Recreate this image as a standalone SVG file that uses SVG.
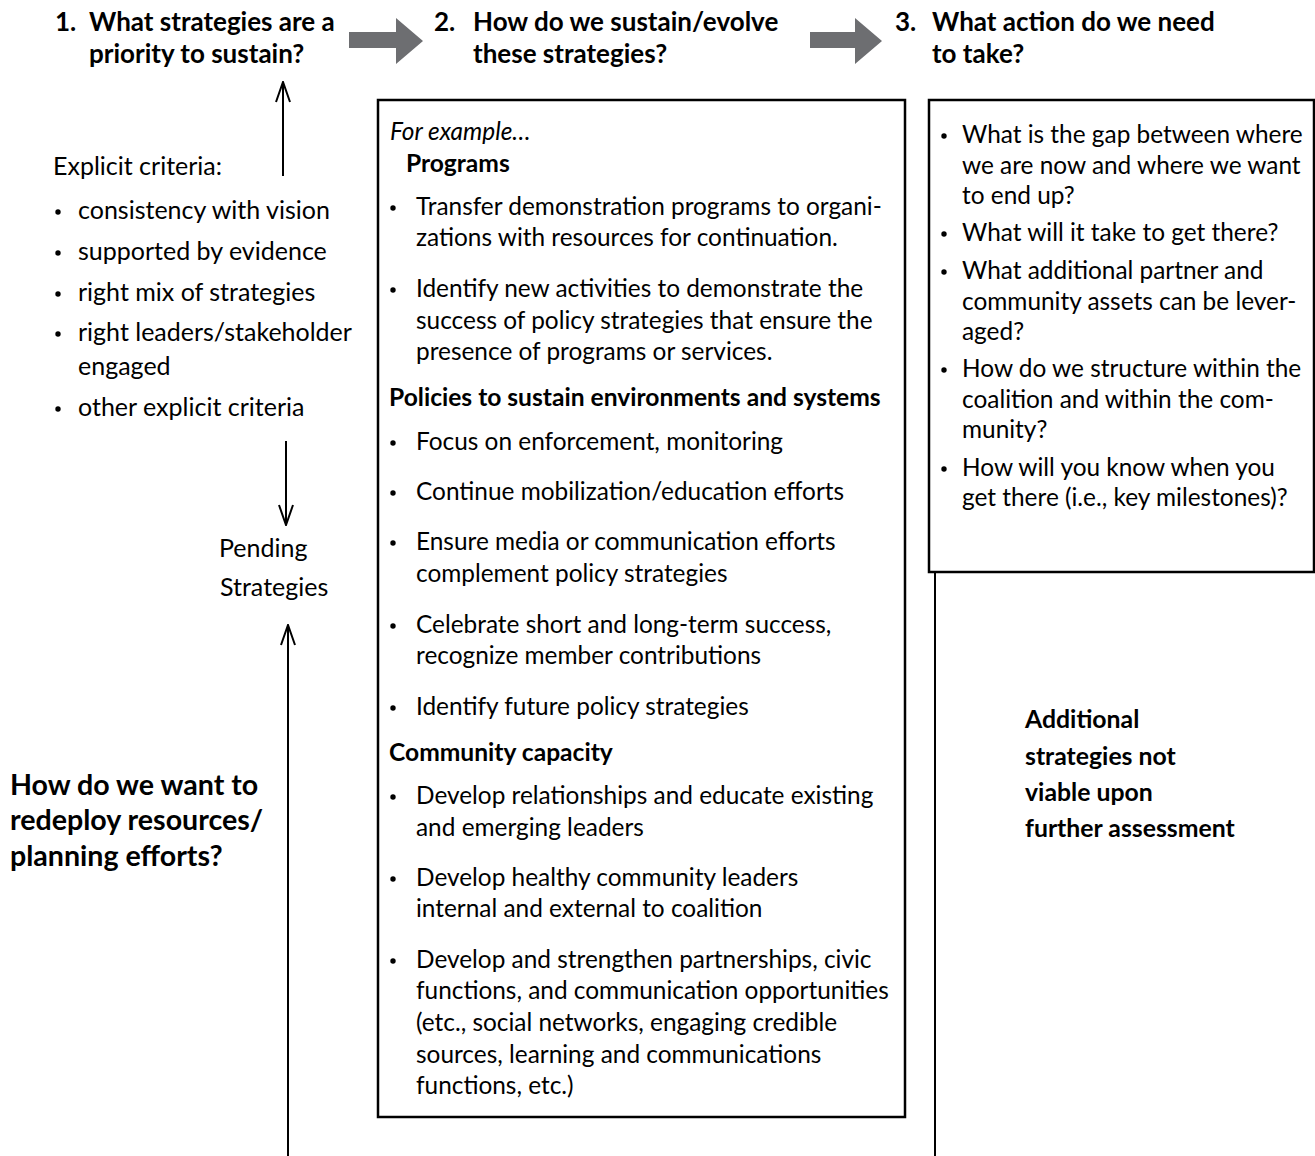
<svg xmlns="http://www.w3.org/2000/svg" width="1315" height="1156" viewBox="0 0 1315 1156">
<style>
.hd{font-family:"Lato","Liberation Sans",sans-serif;font-weight:bold;font-size:26px;fill:#000}
.lt{font-family:"Lato","Liberation Sans",sans-serif;font-size:25px;fill:#000}
.bx{font-family:"Lato","Liberation Sans",sans-serif;font-size:24.4px;fill:#000}
.bb{font-family:"Lato","Liberation Sans",sans-serif;font-size:24.6px;font-weight:bold;fill:#000}
.lb{font-family:"Lato","Liberation Sans",sans-serif;font-size:28.6px;font-weight:bold;fill:#000}
.rb{font-family:"Lato","Liberation Sans",sans-serif;font-size:24.8px;font-weight:bold;fill:#000}
.dot{fill:#000}
.box{fill:#fff;stroke:#000;stroke-width:2.5}
.ln{stroke:#000;stroke-width:2;fill:none}
.garrow{fill:#6d6e71}
</style>
<defs>
<marker id="open" viewBox="0 0 22 16" refX="21" refY="8" markerWidth="22" markerHeight="16" markerUnits="userSpaceOnUse" orient="auto">
<path d="M1,1 L21,8 L1,15" fill="none" stroke="#000" stroke-width="2"/>
</marker>
<circle id="b" r="2.7"/>
</defs>

<g id="header1">
<text class="hd" x="55" y="31">1.</text>
<text class="hd" x="89" y="31">What strategies are a</text>
<text class="hd" x="89" y="63">priority to sustain?</text>
</g>
<g id="header2">
<text class="hd" x="434" y="31">2.</text>
<text class="hd" x="473" y="31">How do we sustain/evolve</text>
<text class="hd" x="473" y="63">these strategies?</text>
</g>
<g id="header3">
<text class="hd" x="895" y="31">3.</text>
<text class="hd" x="932" y="31">What action do we need</text>
<text class="hd" x="932" y="63">to take?</text>
</g>

<g id="connectors">
<polygon class="garrow" points="349,32 396,32 396,18 423,41 396,64 396,48 349,48"/>
<polygon class="garrow" points="810,32 855,32 855,18 882,41 855,64 855,48 810,48"/>
<line class="ln" x1="283" y1="176" x2="283" y2="82" marker-end="url(#open)"/>
<line class="ln" x1="286" y1="441" x2="286" y2="525" marker-end="url(#open)"/>
<line class="ln" x1="288" y1="1156" x2="288" y2="625" marker-end="url(#open)"/>
<line class="ln" x1="935" y1="572" x2="935" y2="1156"/>
</g>

<g id="criteria">
<text class="lt" x="53" y="175">Explicit criteria:</text>
<g class="dot">
<use href="#b" x="58" y="212"/><use href="#b" x="58" y="253"/><use href="#b" x="58" y="294"/><use href="#b" x="58" y="334"/><use href="#b" x="58" y="409"/>
</g>
<g class="lt">
<text x="78" y="219">consistency with vision</text>
<text x="78" y="260">supported by evidence</text>
<text x="78" y="301">right mix of strategies</text>
<text x="78" y="341">right leaders/stakeholder</text>
<text x="78" y="375">engaged</text>
<text x="78" y="416">other explicit criteria</text>
</g>
</g>

<g id="pending">
<text class="lt" x="219" y="557">Pending</text>
<text class="lt" x="220" y="596">Strategies</text>
</g>

<g id="redeploy">
<text class="lb" x="10" y="795">How do we want to</text>
<text class="lb" x="10" y="830">redeploy resources/</text>
<text class="lb" x="10" y="866">planning efforts?</text>
</g>

<g id="box2">
<rect class="box" x="378" y="100" width="527" height="1017"/>
<text class="bx" x="390" y="140" font-style="italic">For example…</text>
<text class="bb" x="406" y="172">Programs</text>
<g class="dot">
<use href="#b" x="393" y="208"/><use href="#b" x="393" y="290"/><use href="#b" x="393" y="443"/><use href="#b" x="393" y="493"/><use href="#b" x="393" y="543"/><use href="#b" x="393" y="626"/><use href="#b" x="393" y="708"/><use href="#b" x="393" y="797"/><use href="#b" x="393" y="879"/><use href="#b" x="393" y="961"/>
</g>
<g class="bx">
<text x="416" y="215">Transfer demonstration programs to organi-</text>
<text x="416" y="246">zations with resources for continuation.</text>
<text x="416" y="297">Identify new activities to demonstrate the</text>
<text x="416" y="329">success of policy strategies that ensure the</text>
<text x="416" y="360">presence of programs or services.</text>
</g>
<text class="bb" x="389" y="406">Policies to sustain environments and systems</text>
<g class="bx">
<text x="416" y="450">Focus on enforcement, monitoring</text>
<text x="416" y="500">Continue mobilization/education efforts</text>
<text x="416" y="550">Ensure media or communication efforts</text>
<text x="416" y="582">complement policy strategies</text>
<text x="416" y="633">Celebrate short and long-term success,</text>
<text x="416" y="664">recognize member contributions</text>
<text x="416" y="715">Identify future policy strategies</text>
</g>
<text class="bb" x="389" y="761">Community capacity</text>
<g class="bx">
<text x="416" y="804">Develop relationships and educate existing</text>
<text x="416" y="836">and emerging leaders</text>
<text x="416" y="886">Develop healthy community leaders</text>
<text x="416" y="917">internal and external to coalition</text>
<text x="416" y="968">Develop and strengthen partnerships, civic</text>
<text x="416" y="999">functions, and communication opportunities</text>
<text x="416" y="1031">(etc., social networks, engaging credible</text>
<text x="416" y="1063">sources, learning and communications</text>
<text x="416" y="1094">functions, etc.)</text>
</g>
</g>

<g id="box3">
<rect class="box" x="929" y="100" width="385" height="472"/>
<g class="dot">
<use href="#b" x="944" y="136"/><use href="#b" x="944" y="234"/><use href="#b" x="944" y="272"/><use href="#b" x="944" y="370"/><use href="#b" x="944" y="469"/>
</g>
<g class="bx">
<text x="962" y="143">What is the gap between where</text>
<text x="962" y="174">we are now and where we want</text>
<text x="962" y="204">to end up?</text>
<text x="962" y="241">What will it take to get there?</text>
<text x="962" y="279">What additional partner and</text>
<text x="962" y="310">community assets can be lever-</text>
<text x="962" y="340">aged?</text>
<text x="962" y="377">How do we structure within the</text>
<text x="962" y="408">coalition and within the com-</text>
<text x="962" y="438">munity?</text>
<text x="962" y="476">How will you know when you</text>
<text x="962" y="506">get there (i.e., key milestones)?</text>
</g>
</g>

<g id="not-viable">
<text class="rb" x="1025" y="728">Additional</text>
<text class="rb" x="1025" y="765">strategies not</text>
<text class="rb" x="1025" y="801">viable upon</text>
<text class="rb" x="1025" y="837">further assessment</text>
</g>
</svg>
